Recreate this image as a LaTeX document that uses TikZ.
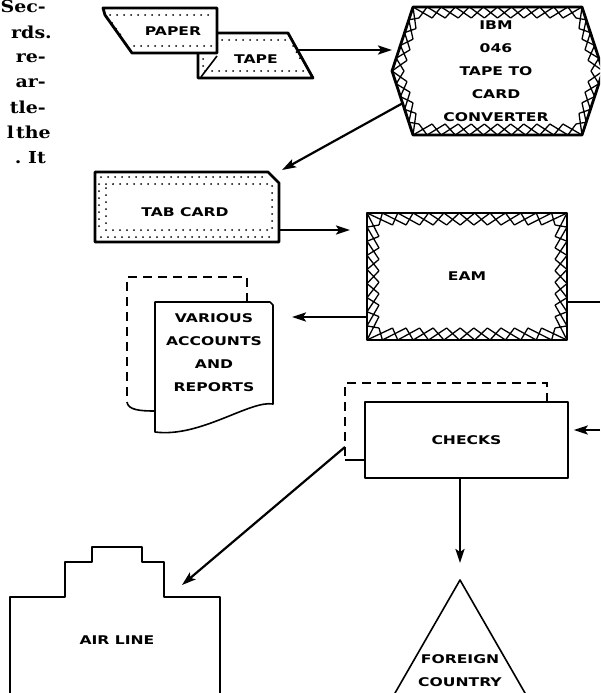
\documentclass[tikz,border=0pt]{standalone}
\usepackage{fontspec}
\setmainfont{DejaVu Serif}
\newfontfamily\labfont{DejaVu Sans}[FakeStretch=1.3]
\newfontfamily\bodyfont{DejaVu Serif}[FakeStretch=1.15]
\usetikzlibrary{arrows.meta,calc}
\newcommand\xedge[5]{%
  \foreach \i in {1,...,#5}{%
    \draw[xline] ($(#1)!{(\i-1)/#5}!(#2)$) -- ($(#3)!{\i/#5}!(#4)$)
                 ($(#3)!{(\i-1)/#5}!(#4)$) -- ($(#1)!{\i/#5}!(#2)$);}}
\begin{document}
\begin{tikzpicture}[x=1pt,y=-1pt,
  lab/.style={font=\labfont\bfseries\fontsize{12}{23}\selectfont, align=center, inner sep=0pt},
  body/.style={font=\bodyfont\bfseries\fontsize{16.5}{20}\selectfont, anchor=base east, inner sep=0pt},
  arr/.style={line width=2.2pt, -{Stealth[length=14pt,width=9pt,inset=3pt]}},
  conn/.style={line width=2.2pt},
  heavy/.style={line width=2.8pt, line join=round},
  thinb/.style={line width=1.6pt, line join=round},
  dashb/.style={line width=1.6pt, dash pattern=on 9pt off 6pt},
  xline/.style={line width=1.3pt},
  dots/.style={line width=2pt, line cap=round, dash pattern=on 0pt off 7pt}]
\useasboundingbox (0,0) rectangle (600,693);
\clip (0,0) rectangle (600,693);

% text column (clipped page text)
\node[body] (t1) at (46,13) {Sec-};
\node[body] (t2) at (52,38) {rds.};
\node[body] (t3) at (46,63) {re-};
\node[body] (t4) at (46,88) {ar-};
\node[body] (t5) at (46,113) {tle-};
\node[body] (t6) at (51,138) {l\kern2pt the};
\node[body] (t7) at (46,163) {.\ It};

% paper tape
\draw[heavy, fill=white] (198,53)--(198,78)--(313,78)--(288,33)--(217,33)--cycle;
\draw[thinb] (217,56)--(201,77);
\draw[dots] (222,40)--(286,40) (205,71)--(306,71) (293,46)--(302,62) (203,59)--(203,68);
\draw[heavy, fill=white] (103,8)--(217,8)--(217,53)--(132,53)--(105,15)--cycle;
\draw[dots] (110,15)--(214,15) (127,46)--(214,46) (112,23)--(123,38);
\node[lab] (paper) at (173,31) {PAPER};
\node[lab] (tape) at (256,59) {TAPE};
\coordinate (tapeR) at (298,50);
\coordinate (hexin) at (392,50);

% hexagon converter
\coordinate (hL) at (392,71);  \coordinate (hTL) at (413,7);  \coordinate (hTR) at (582,7);
\coordinate (hR) at (603,71);  \coordinate (hBR) at (582,135); \coordinate (hBL) at (413,135);
\coordinate (iL) at (404,71);  \coordinate (iTL) at (419,18); \coordinate (iTR) at (576,18);
\coordinate (iR) at (591,71);  \coordinate (iBR) at (576,124); \coordinate (iBL) at (419,124);
\xedge{hTL}{hTR}{iTL}{iTR}{12}
\xedge{hTR}{hR}{iTR}{iR}{5}
\xedge{hR}{hBR}{iR}{iBR}{5}
\xedge{hBR}{hBL}{iBR}{iBL}{12}
\xedge{hBL}{hL}{iBL}{iL}{5}
\xedge{hL}{hTL}{iL}{iTL}{5}
\draw[heavy] (hL)--(hTL)--(hTR)--(hR)--(hBR)--(hBL)--cycle;
\node[lab] (ibm) at (496,71) {IBM\\046\\TAPE TO\\CARD\\CONVERTER};
\draw[arr] (tapeR) -- (hexin);

% tab card
\draw[heavy] (95,172)--(268,172)--(279,183)--(279,242)--(95,242)--cycle;
\draw[dots] (101,177)--(268,177) (101,237)--(274,237) (106,184)--(272,184)--(272,230)--(106,230)--cycle (99,184)--(99,232);
\node[lab] (tab) at (185,212) {TAB CARD};
\coordinate (hexout) at (403,103);
\coordinate (tabin) at (282,170);
\draw[arr] (hexout) -- (tabin);

% EAM
\coordinate (eTL) at (367,213); \coordinate (eTR) at (567,213);
\coordinate (eBR) at (567,340); \coordinate (eBL) at (367,340);
\coordinate (fTL) at (379,225); \coordinate (fTR) at (555,225);
\coordinate (fBR) at (555,328); \coordinate (fBL) at (379,328);
\xedge{eTL}{eTR}{fTL}{fTR}{13}
\xedge{eTR}{eBR}{fTR}{fBR}{9}
\xedge{eBR}{eBL}{fBR}{fBL}{13}
\xedge{eBL}{eTL}{fBL}{fTL}{9}
\node[draw, heavy, minimum width=200pt, minimum height=127pt, lab] (eam) at (467,276.5) {EAM};
\coordinate (tabR) at (279,230);
\coordinate (eamin) at (350,230);
\draw[arr] (tabR) -- (eamin);
\coordinate (offR1) at (600,302);
\draw[conn] (eam.east |- offR1) -- (offR1);

% various accounts and reports
\draw[dashb] (247,302) -- (247,277) -- (127,277) -- (127,402);
\draw[thinb] (127,402) .. controls (128,410) and (140,411) .. (155,411);
\draw[thinb, fill=white] (155,302) -- (270,302) -- (273,305) -- (273,404)
  .. controls (250,400) and (200,438) .. (155,432) -- cycle;
\node[lab] (various) at (214,352.5) {VARIOUS\\ACCOUNTS\\AND\\REPORTS};
\coordinate (varin) at (292,317);
\draw[arr] (eam.west |- varin) -- (varin);

% checks
\draw[dashb] (547,402) -- (547,383) -- (345,383) -- (345,460);
\draw[thinb] (345,460) -- (365,460);
\node[draw, thinb, minimum width=203pt, minimum height=76pt, lab] (checks) at (466.5,440) {CHECKS};
\coordinate (offR2) at (600,430);
\draw[arr, shorten >=5pt] (offR2) -- (checks.east |- offR2);

% foreign country
\coordinate (apex) at (460,580);
\draw[thinb] (379.5,720) -- (apex) -- (540.5,720);
\node[lab] (foreign) at (460,671) {FOREIGN\\COUNTRY};
\draw[arr, shorten >=17pt] (checks.south -| apex) -- (apex);

% air line
\draw[conn, line join=round] (10,720)--(10,597)--(65,597)--(65,562)--(92,562)--(92,547)--(142,547)
  --(142,562)--(164,562)--(164,597)--(220,597)--(220,720);
\node[lab] (air) at (117,640) {AIR LINE};
\coordinate (chkL) at (345,447);
\coordinate (airin) at (182,585);
\draw[arr] (chkL) -- (airin);
\end{tikzpicture}
\end{document}
